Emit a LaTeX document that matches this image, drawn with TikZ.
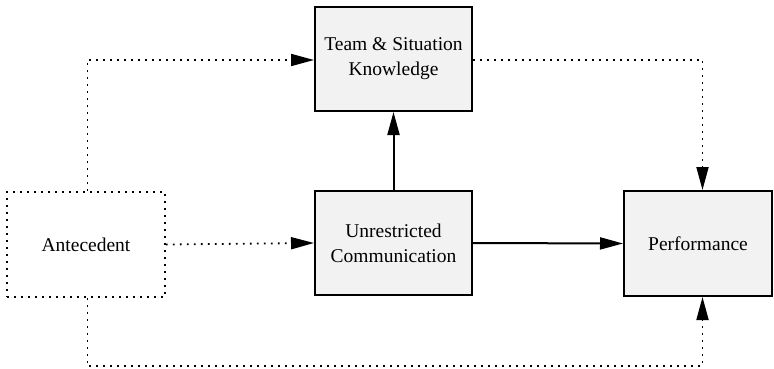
\documentclass[tikz,border=0pt]{standalone}
\usepackage{fontspec}
\setmainfont{Liberation Serif}
\usetikzlibrary{arrows.meta}
\begin{document}
\begin{tikzpicture}[x=1pt,y=-1pt,
  box/.style={draw=black, line width=2pt, fill=black!5, rectangle, inner sep=0pt,
    align=center, font=\fontsize{19.5}{25}\selectfont},
  dotbox/.style={box, fill=white, line width=1.8pt, dash pattern=on 1.8pt off 5.2pt},
  solidarrow/.style={line width=2pt, -{Triangle[length=23pt,width=12pt]}},
  dotarrow/.style={line width=1.8pt, dash pattern=on 1.8pt off 5.2pt,
    -{Triangle[length=23pt,width=12pt]}}]
\useasboundingbox (0,0) rectangle (774,369);

\node[box, minimum width=157pt, minimum height=104pt] (know) at (393.5,59)
  {Team \& Situation\\Knowledge};
\node[box, minimum width=157pt, minimum height=104pt] (comm) at (393.5,243)
  {Unrestricted\\Communication};
\node[box, minimum width=148pt, minimum height=105pt] (perf) at (698,243.5)
  {Performance};
\node[dotbox, minimum width=158pt, minimum height=105pt] (ante) at (86,244.5)
  {Antecedent};

\coordinate (upper) at (87.5,60);
\coordinate (lower) at (87.5,366);
\coordinate (rightcol) at (702.5,60);
\coordinate (rightlow) at (702.5,366);

% direct paths
\draw[solidarrow] (comm.north) -- (know.south);
\draw[solidarrow] (comm.east) -- (perf.west);
\draw[dotarrow] (ante.east) -- (comm.west);

% routed paths
\draw[dotarrow] (ante.north -| upper) -- (upper) -- (know.west |- upper);
\draw[dotarrow] (know.east |- rightcol) -- (rightcol) -- (perf.north -| rightcol);
\draw[dotarrow] (ante.south -| lower) -- (lower) -- (rightlow) -- (perf.south -| rightlow);
\end{tikzpicture}
\end{document}
